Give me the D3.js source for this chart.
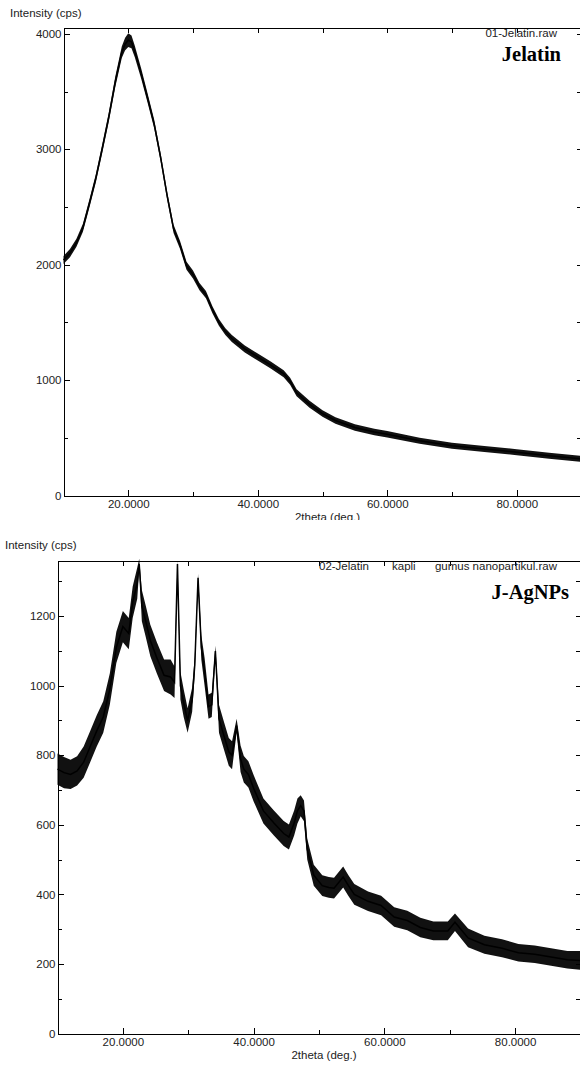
<!DOCTYPE html>
<html>
<head>
<meta charset="utf-8">
<script src="https://cdn.jsdelivr.net/npm/d3@7"></script>
<style>
    body { margin: 0; background: #fff; }
    text { font-family: "Liberation Sans", Arial, sans-serif; }
    .axis text { font-size: 11.5px; fill: #222; }
    .axis line, .axis path { stroke: #000; shape-rendering: crispEdges; }
</style>
</head>
<body>
<svg id="chart" width="580" height="1066"></svg>
<script>
// 01-Jelatin.raw (2theta, cps), with the half-width of the noise band
const topDeg = [10, 11, 12, 13, 14, 15, 16, 17, 18, 19, 19.5, 20, 20.5, 21, 22, 23, 24, 25, 26, 27, 28, 29, 30,
    31, 32, 33, 34, 35, 36, 38, 40, 42, 44, 45, 46, 47, 48, 50, 52, 55, 58, 60, 65, 70, 75, 80, 85, 90];
const topCps = [2040, 2100, 2190, 2320, 2530, 2750, 3010, 3280, 3585, 3840, 3910, 3945, 3930, 3850, 3655, 3440, 3220, 2930, 2600, 2310, 2170, 1990, 1915,
    1810, 1740, 1610, 1500, 1420, 1360, 1270, 1200, 1130, 1055, 990, 890, 840, 790, 710, 650, 590, 550, 530, 475, 432, 403, 375, 345, 318];
const topNoise = [35, 35, 35, 35, 35, 35, 38, 40, 45, 50, 55, 60, 55, 50, 45, 40, 38, 35, 35, 35, 35, 35, 35,
    32, 32, 30, 30, 30, 30, 30, 30, 30, 30, 30, 30, 30, 30, 28, 28, 28, 28, 28, 26, 26, 26, 26, 26, 26];

// 02-Jelatin kapli gumus nanopartikul.raw
const botDeg = [10, 11, 12, 13, 14, 15, 16, 17, 18, 19, 20, 20.9, 21.5, 22.2, 22.5, 22.9, 23.5, 24.2, 25.2, 26.3,
    27.3, 27.9, 28.35, 28.8, 29.3, 29.9, 30.6, 31, 31.5, 32, 32.5, 33.1, 33.6, 34.15, 34.7, 35.4, 36.2, 36.7, 37.4,
    38, 38.5, 39.2, 40, 41.5, 43.1, 44.6, 45.4, 46.2, 46.7, 47.2, 47.7, 48.2, 49.2, 50.5, 51.5, 52.3, 53.7, 54.5,
    55.4, 57.5, 59.5, 61.5, 63.5, 65.5, 67.5, 69.7, 70.8, 72.8, 75.3, 78, 80.5, 83, 85.5, 88, 90];
const botCps = [760, 750, 745, 755, 780, 825, 870, 910, 990, 1110, 1170, 1150, 1240, 1295, 1350, 1230, 1185, 1130, 1080, 1030,
    1025, 1010, 1350, 1000, 950, 900, 960, 1060, 1310, 1110, 1040, 940, 945, 1100, 905, 860, 810, 800, 885,
    790, 760, 745, 705, 640, 605, 575, 565, 605, 640, 655, 640, 530, 455, 425, 420, 418, 450, 425,
    400, 380, 368, 335, 325, 305, 295, 295, 320, 275, 255, 245, 232, 228, 220, 212, 210];
const botNoise = [45, 45, 42, 42, 45, 45, 45, 45, 45, 45, 45, 45, 45, 45, 15, 45, 45, 45, 45, 45,
    50, 45, 10, 40, 40, 35, 35, 25, 12, 35, 40, 35, 35, 15, 40, 40, 40, 40, 20,
    38, 38, 38, 38, 36, 36, 36, 36, 36, 36, 30, 30, 30, 30, 30, 30, 30, 30, 30,
    30, 28, 28, 28, 28, 28, 27, 27, 25, 27, 26, 26, 25, 25, 25, 25, 27];

const xMajor = [20, 40, 60, 80];
const xMinor = [30, 50, 70];
const topYLabels = [0, 1000, 2000, 3000, 4000];
const botYLabels = [0, 200, 400, 600, 800, 1000, 1200];

const svg = d3.select("#chart");

drawPanel({
    left: 63.5, right: 581.5, top: 27.5, bottom: 495.5, yMax: 4055,
    yMajor: topYLabels, yMinor: d3.range(500, 4001, 1000), yRight: d3.range(500, 4001, 500),
    deg: topDeg, cps: topCps, noise: topNoise,
    clip: [0, 520],
    titleY: 16.5, titleX: 10,
    fileTexts: [{t: "01-Jelatin.raw", x: 557, y: 37, anchor: "end"}],
    name: "Jelatin", nameX: 561, nameY: 61,
});

drawPanel({
    left: 57.5, right: 580.5, top: 560.5, bottom: 1033.5, yMax: 1360,
    yMajor: botYLabels, yMinor: d3.range(100, 1301, 200), yRight: d3.range(100, 1301, 100),
    deg: botDeg, cps: botCps, noise: botNoise,
    clip: null,
    titleY: 549, titleX: 5,
    fileTexts: [
        {t: "02-Jelatin", x: 319, y: 570, anchor: "start"},
        {t: "kapli", x: 392, y: 570, anchor: "start"},
        {t: "gumus nanopartikul.raw", x: 557, y: 570, anchor: "end"},
    ],
    name: "J-AgNPs", nameX: 569, nameY: 599,
});

function drawPanel(p) {
    let g = svg.append("g");
    if (p.clip) {
        const id = "clip" + Math.round(p.top);
        svg.append("clipPath").attr("id", id)
            .append("rect").attr("x", 0).attr("y", p.clip[0]).attr("width", 580).attr("height", p.clip[1] - p.clip[0]);
        g.attr("clip-path", `url(#${id})`);
    }

    const x = d3.scaleLinear().domain([10, 90]).range([p.left, p.right]);
    const y = d3.scaleLinear().domain([0, p.yMax]).range([p.bottom, p.top]);

    // noisy trace as a band around the read values
    const band = d3.area()
        .x((d, i) => x(p.deg[i]))
        .y0((d, i) => y(p.cps[i] - p.noise[i]))
        .y1((d, i) => y(p.cps[i] + p.noise[i]));
    const line = d3.line()
        .x((d, i) => x(p.deg[i]))
        .y((d, i) => y(p.cps[i]));

    g.append("path").datum(p.cps)
        .attr("d", band)
        .attr("fill", "#111");
    g.append("path").datum(p.cps)
        .attr("d", line)
        .attr("fill", "none")
        .attr("stroke", "#000")
        .attr("stroke-width", 1.5);

    const fmt = d3.format(".4f");
    const axes = [
        [d3.axisBottom(x).tickValues(xMajor).tickSize(-6).tickPadding(4).tickFormat(fmt), `translate(0,${p.bottom})`, true],
        [d3.axisBottom(x).tickValues(xMinor).tickSize(-4).tickFormat(""), `translate(0,${p.bottom})`, false],
        [d3.axisTop(x).tickValues(xMajor.concat(xMinor)).tickSize(-5).tickFormat(""), `translate(0,${p.top})`, true],
        [d3.axisLeft(y).tickValues(p.yMajor).tickSize(-6).tickPadding(2).tickFormat(d3.format("d")), `translate(${p.left},0)`, true],
        [d3.axisLeft(y).tickValues(p.yMinor).tickSize(-4).tickFormat(""), `translate(${p.left},0)`, false],
        [d3.axisRight(y).tickValues(p.yRight).tickSize(-5).tickFormat(""), `translate(${p.right},0)`, true],
    ];
    axes.forEach(([axis, tr, domain]) => {
        const a = g.append("g")
            .attr("class", "axis")
            .attr("transform", tr)
            .call(axis.tickSizeOuter(0));
        a.attr("font-family", null).attr("font-size", null);
        if (!domain) a.select(".domain").remove();
    });

    g.append("text")
        .attr("x", (p.left + p.right) / 2 + 5)
        .attr("y", p.bottom + 25)
        .attr("text-anchor", "middle")
        .attr("font-size", "11.5px")
        .attr("fill", "#222")
        .text("2theta (deg.)");

    g.append("text")
        .attr("x", p.titleX)
        .attr("y", p.titleY)
        .attr("font-size", "11.5px")
        .attr("fill", "#222")
        .text("Intensity (cps)");

    p.fileTexts.forEach(f => {
        g.append("text")
            .attr("x", f.x)
            .attr("y", f.y)
            .attr("text-anchor", f.anchor)
            .attr("font-size", "11.5px")
            .attr("fill", "#222")
            .text(f.t);
    });

    g.append("text")
        .attr("x", p.nameX)
        .attr("y", p.nameY)
        .attr("text-anchor", "end")
        .attr("font-size", "20.5px")
        .attr("font-weight", "bold")
        .style("font-family", "'Liberation Serif', 'Times New Roman', serif")
        .text(p.name);
}
</script>
</body>
</html>
